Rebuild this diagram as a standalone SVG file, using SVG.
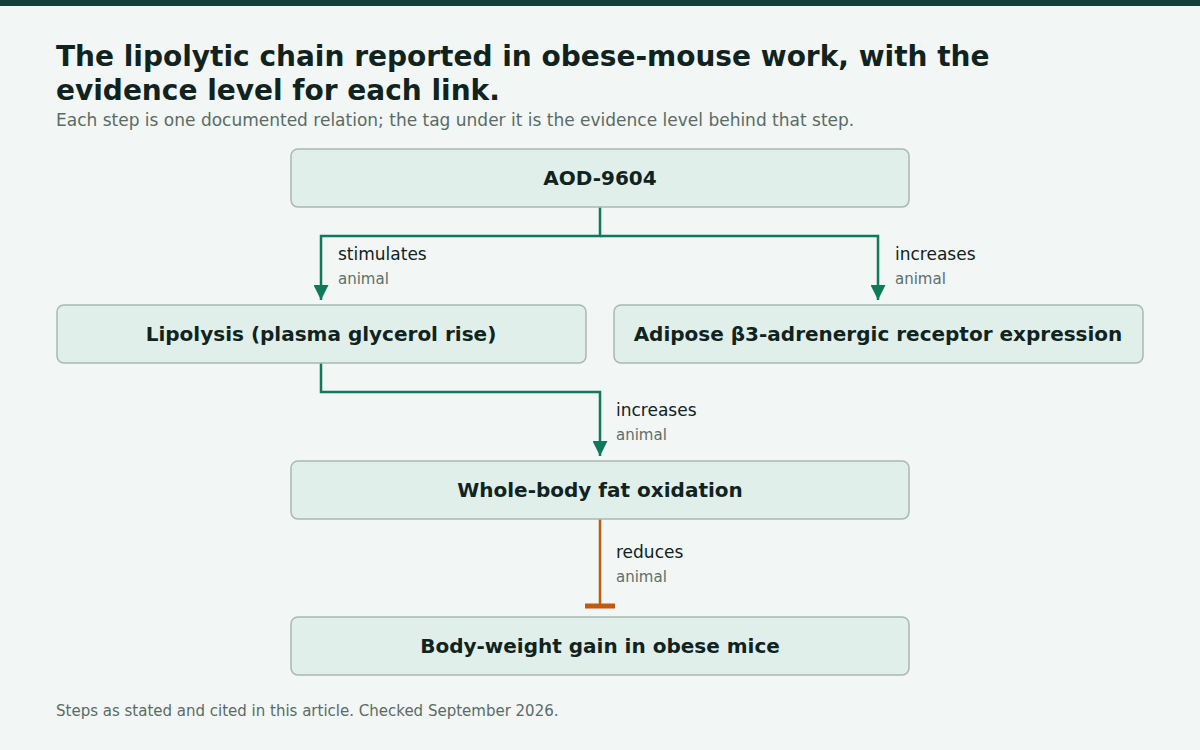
<svg xmlns="http://www.w3.org/2000/svg" width="1200" height="750" viewBox="0 0 1200 750">
<style>
text{font-family:"DejaVu Sans",sans-serif}
.node rect{fill:#e1efea;stroke:#a9b8b2;stroke-width:1.5}
.node text{font-size:20px;font-weight:bold;fill:#10231f;text-anchor:middle}
.c{fill:none;stroke:#0f7a5a;stroke-width:2.5}
.r{fill:none;stroke:#c05a10;stroke-width:2.5}
.lab{font-size:17px;fill:#10231f}
.ev{font-size:15px;fill:#5f6f6a}
</style>
<defs><marker id="ah" viewBox="0 0 10 10" refX="10" refY="5" markerWidth="6" markerHeight="6" markerUnits="strokeWidth" orient="auto"><path d="M0,0L10,5L0,10z" fill="#0f7a5a"/></marker></defs>
<rect width="1200" height="750" fill="#f2f6f4"/>
<rect width="1200" height="6" fill="#163f3c"/>
<text x="56" y="66" font-size="28" font-weight="bold" fill="#10231f">The lipolytic chain reported in obese-mouse work, with the</text>
<text x="56" y="100" font-size="28" font-weight="bold" fill="#10231f">evidence level for each link.</text>
<text x="56" y="126" font-size="17" fill="#5a6b66">Each step is one documented relation; the tag under it is the evidence level behind that step.</text>
<g id="connectors">
<path class="c" d="M600,207V236H321V300" marker-end="url(#ah)"/>
<path class="c" d="M600,236H878V300" marker-end="url(#ah)"/>
<path class="c" d="M321,363V392H600V456" marker-end="url(#ah)"/>
<path class="r" d="M600,519V606"/>
<path d="M585,606H615" stroke="#c05a10" stroke-width="5"/>
<text class="lab" x="338" y="260">stimulates</text><text class="ev" x="338" y="284">animal</text>
<text class="lab" x="895" y="260">increases</text><text class="ev" x="895" y="284">animal</text>
<text class="lab" x="616" y="416">increases</text><text class="ev" x="616" y="440">animal</text>
<text class="lab" x="616" y="558">reduces</text><text class="ev" x="616" y="582">animal</text>
</g>
<g id="n1" class="node"><rect x="291" y="149" width="618" height="58" rx="7"/><text x="600" y="185">AOD-9604</text></g>
<g id="n2" class="node"><rect x="57" y="305" width="529" height="58" rx="7"/><text x="321" y="341">Lipolysis (plasma glycerol rise)</text></g>
<g id="n3" class="node"><rect x="614" y="305" width="529" height="58" rx="7"/><text x="878" y="341">Adipose β3-adrenergic receptor expression</text></g>
<g id="n4" class="node"><rect x="291" y="461" width="618" height="58" rx="7"/><text x="600" y="497">Whole-body fat oxidation</text></g>
<g id="n5" class="node"><rect x="291" y="617" width="618" height="58" rx="7"/><text x="600" y="653">Body-weight gain in obese mice</text></g>
<text x="56" y="716" font-size="15" fill="#5a6b66">Steps as stated and cited in this article. Checked September 2026.</text>
</svg>
